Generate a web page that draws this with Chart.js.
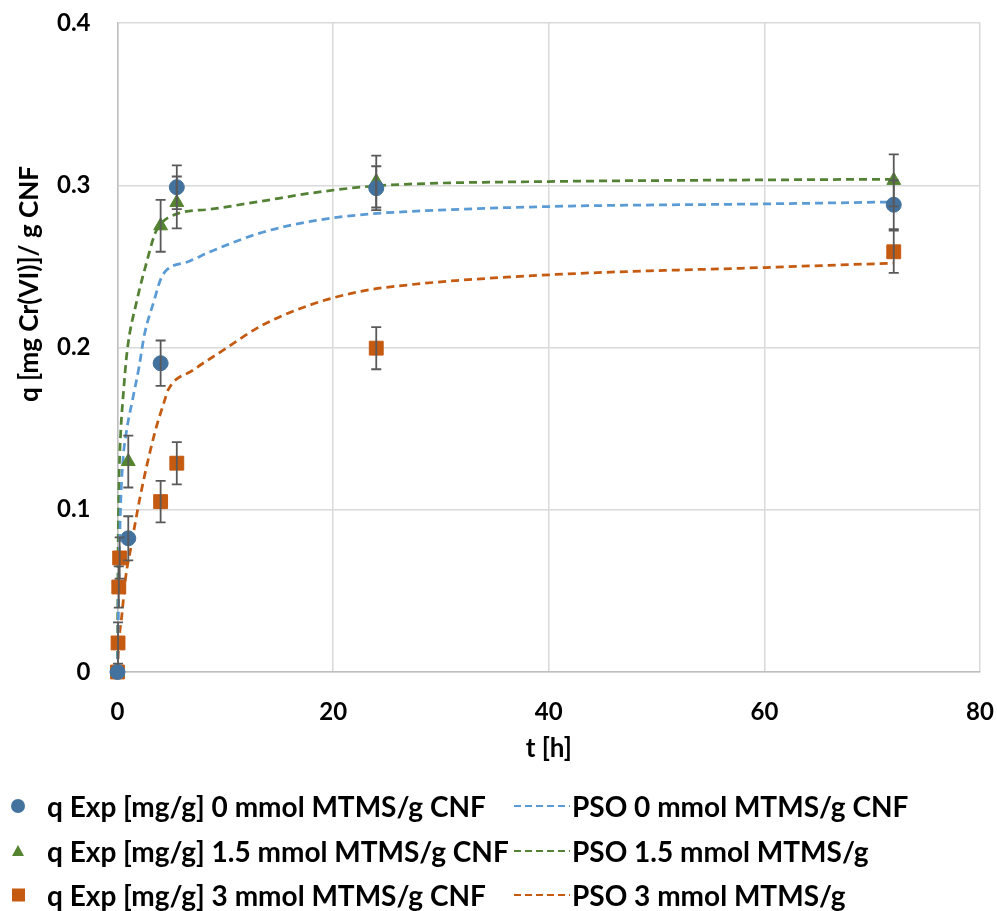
<!DOCTYPE html>
<html>
<head>
<meta charset="utf-8">
<script src="https://cdn.jsdelivr.net/npm/chart.js@4.4.0/dist/chart.umd.min.js"></script>
<style>
  body { margin: 0; background: #fff; font-family: Lato, sans-serif; }
  #wrap { position: relative; width: 997px; height: 911px; }
  #legend { position: absolute; left: 0; top: 0; width: 997px; height: 911px; pointer-events: none; }
  .item { position: absolute; display: flex; align-items: center; height: 40px; font-weight: bold; font-size: 28px; color: #000; white-space: nowrap; }
  .item svg { flex: none; }
</style>
</head>
<body>
<div id="wrap">
  <canvas id="myChart" width="997" height="780"></canvas>
  <div id="legend"></div>
</div>
<script>
// experimental points, time in hours, q in mg/g
const expTime0 = [0, 1, 4, 5.5, 24, 72];
const expQ0 = [0, 0.0824, 0.1903, 0.2988, 0.2982, 0.288];
const expErr0 = [0, 0.0136, 0.014, 0.0135, 0.0135, 0.015];

const expTime15 = [0, 1, 4, 5.5, 24, 72];
const expQ15 = [0, 0.1297, 0.275, 0.2894, 0.3023, 0.303];
const expErr15 = [0, 0.016, 0.016, 0.016, 0.016, 0.016];

const expTime3 = [0, 0.05, 0.12, 0.2, 4, 5.5, 24, 72];
const expQ3 = [0, 0.0179, 0.0524, 0.0703, 0.105, 0.1287, 0.1996, 0.259];
const expErr3 = [0, 0.0127, 0.0127, 0.0127, 0.0128, 0.013, 0.013, 0.013];

// pseudo second order fits
const psoTime0 = [0, 0.1, 0.25, 0.5, 0.8, 1.4, 2.0, 2.5, 3.4, 4.0, 4.6, 6.6, 8.6, 13.2, 17.9, 22.5, 27, 40, 60, 72];
const psoQ0 = [0, 0.045, 0.095, 0.13, 0.147, 0.168, 0.188, 0.208, 0.229, 0.242, 0.248, 0.253, 0.259, 0.2705, 0.2777, 0.2818, 0.2838, 0.2869, 0.2885, 0.2897];

const psoTime15 = [0, 0.05, 0.15, 0.3, 0.5, 0.9, 1.8, 2.6, 3.5, 4.1, 5.7, 8.6, 13.2, 17.9, 22.5, 27, 40, 60, 72];
const psoQ15 = [0, 0.07, 0.12, 0.148, 0.168, 0.198, 0.229, 0.25, 0.2705, 0.2768, 0.2828, 0.2852, 0.29, 0.2951, 0.2988, 0.3007, 0.3023, 0.3033, 0.3037];

const psoTime3 = [0, 0.1, 0.42, 0.73, 1.25, 2.1, 3.4, 4.4, 4.7, 7.0, 10.1, 13.2, 17.9, 22.5, 27, 40, 60, 72];
const psoQ3 = [0, 0.0156, 0.036, 0.057, 0.077, 0.108, 0.146, 0.168, 0.1739, 0.186, 0.1996, 0.2129, 0.2263, 0.2345, 0.2386, 0.2448, 0.2493, 0.252];

const expLabels = ['q Exp [mg/g] 0 mmol MTMS/g CNF', 'q Exp [mg/g] 1.5 mmol MTMS/g CNF', 'q Exp [mg/g] 3 mmol MTMS/g CNF'];
const psoLabels = ['PSO 0 mmol MTMS/g CNF', 'PSO 1.5 mmol MTMS/g', 'PSO 3 mmol MTMS/g'];
const xTicks = [0, 20, 40, 60, 80];
const yTicks = [0, 0.1, 0.2, 0.3, 0.4];
const xTitle = 't [h]';
const yTitle = 'q [mg Cr(VI)]/ g CNF';

const markerColors = ['#43729E', '#558431', '#C55A11'];
const lineColors = ['#5B9BD5', '#548235', '#C55A11'];
const markerStyles = ['circle', 'triangle', 'rect'];
const markerSizes = [7.5, 8, 9.8];

const pts = (xs, ys) => xs.map((x, i) => ({ x: x, y: ys[i] }));

const expSets = [[expTime0, expQ0, expErr0], [expTime15, expQ15, expErr15], [expTime3, expQ3, expErr3]];
const psoSets = [[psoTime0, psoQ0], [psoTime15, psoQ15], [psoTime3, psoQ3]];

const datasets = [];
expSets.forEach((s, i) => {
  datasets.push({
    label: expLabels[i],
    data: pts(s[0], s[1]),
    errors: s[2],
    showLine: false,
    clip: false,
    pointStyle: markerStyles[i],
    pointRadius: markerSizes[i],
    pointBackgroundColor: markerColors[i],
    pointBorderColor: markerColors[i],
    pointBorderWidth: 1,
    order: 0
  });
});
psoSets.forEach((s, i) => {
  datasets.push({
    label: psoLabels[i],
    data: pts(s[0], s[1]),
    showLine: true,
    clip: false,
    pointRadius: 0,
    borderColor: lineColors[i],
    borderWidth: 2.75,
    borderDash: [8, 5],
    cubicInterpolationMode: 'monotone',
    fill: false,
    order: 1
  });
});

// vertical error bars with caps, drawn above the markers
const errorBars = {
  id: 'errorBars',
  afterDatasetsDraw(chart) {
    const ctx = chart.ctx;
    const xs = chart.scales.x, ys = chart.scales.y;
    ctx.save();
    ctx.strokeStyle = '#595959';
    ctx.lineWidth = 1.8;
    chart.data.datasets.forEach(ds => {
      if (!ds.errors) return;
      ds.data.forEach((p, i) => {
        const e = ds.errors[i];
        if (!e) return;
        const x = xs.getPixelForValue(p.x);
        const y1 = ys.getPixelForValue(p.y + e);
        const y2 = ys.getPixelForValue(p.y - e);
        ctx.beginPath();
        ctx.moveTo(x, y1); ctx.lineTo(x, y2);
        ctx.moveTo(x - 5, y1); ctx.lineTo(x + 5, y1);
        ctx.moveTo(x - 5, y2); ctx.lineTo(x + 5, y2);
        ctx.stroke();
      });
    });
    ctx.restore();
  }
};

// y axis title, anchored at its top end
const yAxisTitle = {
  id: 'yAxisTitle',
  afterDraw(chart) {
    const ctx = chart.ctx;
    ctx.save();
    ctx.translate(30, 166);
    ctx.rotate(-Math.PI / 2);
    ctx.font = 'bold 26px Lato';
    ctx.fillStyle = '#000';
    ctx.textAlign = 'right';
    ctx.textBaseline = 'middle';
    ctx.fillText(yTitle, 0, 0);
    ctx.restore();
  }
};

const tickFont = { family: 'Lato', size: 24, weight: 'bold' };
const titleFont = { family: 'Lato', size: 26, weight: 'bold' };

const chart = new Chart(document.getElementById('myChart'), {
  type: 'scatter',
  data: { datasets: datasets },
  options: {
    responsive: false,
    animation: false,
    devicePixelRatio: 1,
    layout: { padding: { top: 23, right: 17, left: 0, bottom: 0 } },
    plugins: { legend: { display: false }, tooltip: { enabled: false } },
    scales: {
      x: {
        type: 'linear', min: 0, max: 80,
        afterBuildTicks: s => { s.ticks = xTicks.map(v => ({ value: v })); },
        afterFit: s => { s.height = 108; s.paddingLeft = 0; s.paddingRight = 0; },
        grid: { color: '#D9D9D9', lineWidth: 1.5, drawTicks: false },
        border: { color: '#BFBFBF', width: 1.5 },
        ticks: { font: tickFont, color: '#000', padding: 26, maxRotation: 0 },
        title: { display: true, text: xTitle, font: titleFont, color: '#000', padding: { top: 0, bottom: 16 } }
      },
      y: {
        type: 'linear', min: 0, max: 0.4,
        afterBuildTicks: s => { s.ticks = yTicks.map(v => ({ value: v })); },
        afterFit: s => { s.width = 117.5; s.paddingTop = 0; s.paddingBottom = 0; },
        grid: { color: '#D9D9D9', lineWidth: 1.5, drawTicks: false },
        border: { color: '#BFBFBF', width: 1.5 },
        ticks: { font: tickFont, color: '#000', padding: 27, callback: v => v === 0 ? '0' : v.toFixed(1) }
      }
    }
  },
  plugins: [errorBars, yAxisTitle]
});

// legend: markers on the left, dashed fit lines on the right
const legend = document.getElementById('legend');
const rowY = [806, 851, 895];
function markerSvg(i) {
  const c = markerColors[i];
  let shape;
  if (markerStyles[i] === 'circle') shape = `<circle cx="9" cy="9" r="7" fill="${c}"/>`;
  else if (markerStyles[i] === 'triangle') shape = `<polygon points="9,3 15,14 3,14" fill="${c}"/>`;
  else shape = `<rect x="3" y="2.5" width="13" height="13" fill="${c}"/>`;
  return `<svg width="18" height="18">${shape}</svg>`;
}
function lineSvg(i) {
  return `<svg width="56" height="6"><line x1="0" y1="3" x2="56" y2="3" stroke="${lineColors[i]}" stroke-width="2.2" stroke-dasharray="7,4"/></svg>`;
}
for (let i = 0; i < 3; i++) {
  const a = document.createElement('div');
  a.className = 'item';
  a.style.left = '9px';
  a.style.top = (rowY[i] - 20) + 'px';
  a.innerHTML = markerSvg(i) + `<span style="margin-left:20px">${expLabels[i]}</span>`;
  legend.appendChild(a);
  const b = document.createElement('div');
  b.className = 'item';
  b.style.left = '514px';
  b.style.top = (rowY[i] - 20) + 'px';
  b.innerHTML = lineSvg(i) + `<span style="margin-left:2px">${psoLabels[i]}</span>`;
  legend.appendChild(b);
}
</script>
</body>
</html>
